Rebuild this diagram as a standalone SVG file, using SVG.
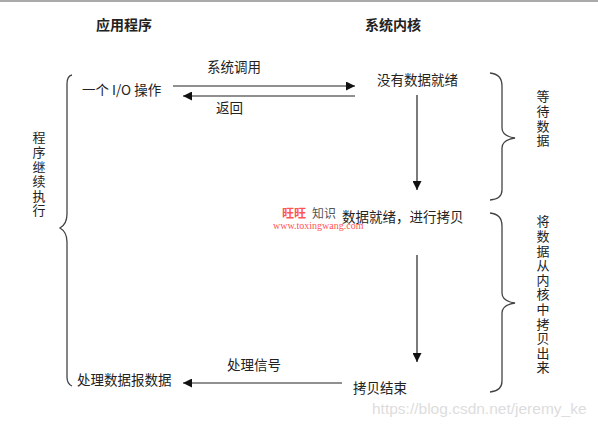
<svg xmlns="http://www.w3.org/2000/svg" width="598" height="428" viewBox="0 0 598 428">
<defs>
<style>
.t{font-family:"Noto Sans CJK SC","Liberation Sans",sans-serif;font-size:13.5px;fill:#222}
.b{font-weight:bold;font-size:14px}
.v{font-family:"Noto Sans CJK SC","Liberation Sans",sans-serif;font-size:13px;fill:#222;writing-mode:vertical-rl;letter-spacing:1.6px}
.ln{stroke:#222;stroke-width:1.2;fill:none}
.br{stroke:#444;stroke-width:1.3;fill:none}
</style>
<marker id="ah" viewBox="0 0 10 10" refX="10" refY="5" markerWidth="10" markerHeight="9" markerUnits="userSpaceOnUse" orient="auto">
<path d="M0,0 L10,5 L0,10 Z" fill="#111"/>
</marker>
</defs>
<rect width="598" height="428" fill="#fff"/>
<line x1="0" y1="1" x2="598" y2="1" stroke="#aaa" stroke-width="2"/>

<g id="titles">
<text class="t b" x="96" y="30">应用程序</text>
<text class="t b" x="365" y="30">系统内核</text>
</g>

<g id="connectors">
<line class="ln" x1="173" y1="86" x2="355" y2="86" marker-end="url(#ah)"/>
<line class="ln" x1="355" y1="96" x2="183" y2="96" marker-end="url(#ah)"/>
<line class="ln" x1="417" y1="95" x2="417" y2="190" marker-end="url(#ah)"/>
<line class="ln" x1="417" y1="255" x2="417" y2="362" marker-end="url(#ah)"/>
<line class="ln" x1="342" y1="383" x2="183" y2="383" marker-end="url(#ah)"/>
<text class="t" x="207" y="72">系统调用</text>
<text class="t" x="216" y="113">返回</text>
<text class="t" x="227" y="370">处理信号</text>
</g>

<g id="io-op"><text class="t" x="82" y="95">一个 I/O 操作</text></g>
<g id="no-data"><text class="t" x="377" y="85">没有数据就绪</text></g>
<g id="data-ready"><text class="t" x="342" y="222">数据就绪，进行拷贝</text></g>
<g id="copy-done"><text class="t" x="353" y="393">拷贝结束</text></g>
<g id="process-data"><text class="t" x="77" y="385">处理数据报数据</text></g>

<g id="left-brace">
<path class="br" d="M72,75 Q67,76 67,84 L67,214 Q67,224 60,228 Q67,232 67,242 L67,377 Q67,384 72,386"/>
<text class="v" x="39" y="131">程序继续执行</text>
</g>

<g id="wait-brace">
<path class="br" d="M490,73 Q502,74 502,86 L502,128 Q502,136 515,138 Q502,140 502,148 L502,190 Q502,199 490,200"/>
<text class="v" x="543" y="90">等待数据</text>
</g>

<g id="copy-brace">
<path class="br" d="M490,213 Q502,214 502,226 L502,293 Q502,301 515,303 Q502,305 502,313 L502,381 Q502,391 490,392"/>
<text class="v" x="543" y="215">将数据从内核中拷贝出来</text>
</g>

<g id="watermarks">
<text x="282" y="218" font-family="Noto Sans CJK SC,sans-serif" font-size="12" font-weight="bold" fill="#f55">旺旺</text>
<text x="312" y="218" font-family="Noto Sans CJK SC,sans-serif" font-size="12" fill="#555">知识</text>
<text x="273" y="229" font-family="Liberation Serif,serif" font-size="10" fill="#f55">www.toxingwang.com</text>
<text x="372" y="414" font-family="Liberation Sans,sans-serif" font-size="15.5" fill="#ddd">https://blog.csdn.net/jeremy_ke</text>
</g>
</svg>
